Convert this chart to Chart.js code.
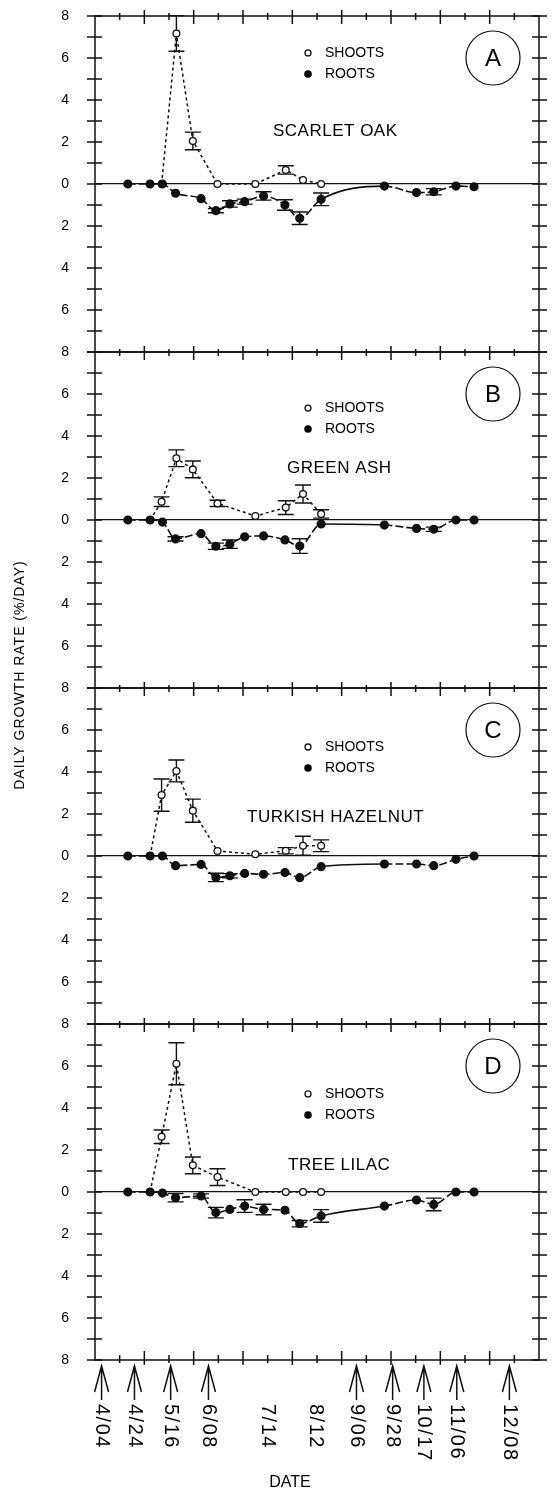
<!DOCTYPE html>
<html>
<head>
<meta charset="utf-8">
<script src="https://cdn.jsdelivr.net/npm/chart.js@4.4.1/dist/chart.umd.min.js"></script>
<style>
  html, body { margin: 0; padding: 0; background: #fff; }
  #wrap { width: 555px; height: 1492px; position: relative; }
</style>
</head>
<body>
<div id="wrap"><canvas id="growthChart"></canvas></div>
<script>
// Sampling dates (day of year)
const rootDays = [110, 123.5, 131, 139, 154.5, 163.5, 172, 181, 192.5, 205.5, 214.5, 227.5, 266, 285.5, 296, 309.5, 320.5];
const shootDays = [123.5, 130.5, 139.5, 149.5, 164.5, 187.5, 206, 216.5, 227.5];

// Scarlet oak
const oakShoots = [null, 0, 7.17, 2.05, 0, 0, 0.67, 0.19, 0];
const oakShootErr = [0, 0, 0.85, 0.42, 0, 0, 0.2, 0, 0];
const oakRoots = [0, 0, 0, -0.44, -0.7, -1.27, -0.95, -0.84, -0.57, -1.0, -1.63, -0.73, -0.1, -0.41, -0.37, -0.1, -0.13];
const oakRootErr = [0, 0, 0, 0, 0, 0.1, 0.15, 0.12, 0.2, 0.25, 0.3, 0.3, 0, 0, 0.15, 0, 0];

// Green ash
const ashShoots = [0, 0.87, 2.94, 2.41, 0.79, 0.19, 0.59, 1.24, 0.29];
const ashShootErr = [0, 0.23, 0.4, 0.4, 0.15, 0, 0.33, 0.43, 0.2];
const ashRoots = [0, 0, -0.1, -0.9, -0.65, -1.25, -1.15, -0.8, -0.76, -0.95, -1.24, -0.19, -0.24, -0.4, -0.44, 0, 0];
const ashRootErr = [0, 0, 0, 0.1, 0, 0.15, 0.2, 0, 0, 0, 0.35, 0, 0, 0, 0.1, 0, 0];

// Turkish hazelnut
const hazelShoots = [0, 2.9, 4.05, 2.16, 0.24, 0.08, 0.25, 0.49, 0.49];
const hazelShootErr = [0, 0.77, 0.52, 0.55, 0, 0, 0.15, 0.45, 0.28];
const hazelRoots = [0, 0, 0, -0.46, -0.4, -1.02, -0.94, -0.83, -0.87, -0.79, -1.03, -0.51, -0.38, -0.38, -0.46, -0.16, 0];
const hazelRootErr = [0, 0, 0, 0, 0, 0.2, 0.1, 0, 0, 0, 0, 0, 0, 0, 0, 0, 0];

// Tree lilac
const lilacShoots = [0, 2.63, 6.11, 1.27, 0.71, 0, 0, 0, 0];
const lilacShootErr = [0, 0.32, 1.0, 0.4, 0.4, 0, 0, 0, 0];
const lilacRoots = [0, 0, -0.05, -0.27, -0.19, -0.98, -0.83, -0.67, -0.83, -0.87, -1.51, -1.14, -0.67, -0.38, -0.59, 0, 0];
const lilacRootErr = [0, 0, 0, 0.2, 0.1, 0.25, 0, 0.3, 0.25, 0, 0.15, 0.3, 0, 0, 0.3, 0, 0];

const speciesNames = ["SCARLET OAK", "GREEN ASH", "TURKISH HAZELNUT", "TREE LILAC"];
const panelLetters = ["A", "B", "C", "D"];

// Marked dates under the axis
const markDays = [94, 114, 136, 159, 195, 224, 249, 271, 290, 310, 342];
const markLabels = ["4/04", "4/24", "5/16", "6/08", "7/14", "8/12", "9/06", "9/28", "10/17", "11/06", "12/08"];
const unarrowed = ["7/14", "8/12"];

const ink = "#111";
const fontFamily = "'Liberation Sans', Arial, Helvetica, sans-serif";
const panelIds = ["yA", "yB", "yC", "yD"];

// text placement per panel (title x in px, y in data units)
const titleX = [273, 287, 247, 288];
const titleY = [2.52, 2.48, 1.86, 1.29];
const legendY = [6.24, 5.33, 5.19, 4.67];

function toPoints(days, values) {
  return days.map((d, i) => ({ x: d, y: values[i] }));
}

function rootSet(id, values, errs) {
  return {
    label: "Roots",
    yAxisID: id,
    data: toPoints(rootDays, values),
    errors: errs,
    borderColor: ink,
    borderWidth: 1.6,
    pointRadius: 3.8,
    pointBackgroundColor: ink,
    pointBorderColor: ink,
    cubicInterpolationMode: "monotone",
    segment: {
      borderDash: (c) => (c.p1.parsed.x - c.p0.parsed.x > 30 ? [] : [8, 3]),
    },
  };
}

function shootSet(id, values, errs) {
  return {
    label: "Shoots",
    yAxisID: id,
    data: toPoints(shootDays, values),
    errors: errs,
    borderColor: ink,
    borderWidth: 1.5,
    borderDash: [3, 3],
    pointRadius: 3.4,
    pointBorderWidth: 1.3,
    pointBackgroundColor: "#fff",
    pointBorderColor: ink,
    tension: 0,
  };
}

function yScale(weight) {
  return {
    type: "linear",
    position: "left",
    stack: "panels",
    stackWeight: 1,
    weight: weight,
    min: -8,
    max: 8,
    border: { display: false },
    grid: {
      drawTicks: false,
      lineWidth: 1.2,
      color: (c) => (c.tick && c.tick.value === 0 ? ink : "rgba(0,0,0,0)"),
    },
    ticks: {
      stepSize: 1,
      autoSkip: false,
      padding: 26,
      color: "#000",
      font: { size: 14, family: fontFamily },
      callback: function (v) {
        if (v === -8 && this.id !== "yD") return "";
        return v % 2 === 0 ? String(Math.abs(v)) : "";
      },
    },
    afterFit: (s) => {
      s.width = 95;
      s.paddingTop = 0;
      s.paddingBottom = 0;
    },
  };
}

// Frame, tick marks and error bars
const framePlugin = {
  id: "frame",
  beforeDatasetsDraw(chart) {
    const ctx = chart.ctx;
    const area = chart.chartArea;
    const xs = chart.scales.x;
    ctx.save();
    ctx.strokeStyle = ink;
    ctx.lineWidth = 1.5;
    panelIds.forEach((id, i) => {
      const s = chart.scales[id];
      ctx.strokeRect(area.left, s.top, area.right - area.left, s.bottom - s.top);
      ctx.beginPath();
      s.ticks.forEach((t) => {
        const y = s.getPixelForValue(t.value);
        ctx.moveTo(area.left - 8, y);
        ctx.lineTo(area.left + 7, y);
        ctx.moveTo(area.right - 7, y);
        ctx.lineTo(area.right + 8, y);
      });
      xs.ticks.forEach((t) => {
        if (t.value <= xs.min || t.value >= xs.max) return;
        const x = xs.getPixelForValue(t.value);
        const long = (t.value - xs.min) % 30 === 0;
        ctx.moveTo(x, s.top - (long ? 6 : 3));
        ctx.lineTo(x, s.top + (long ? 8 : 4));
        if (i === panelIds.length - 1) {
          ctx.moveTo(x, s.bottom - (long ? 9 : 5));
          ctx.lineTo(x, s.bottom + (long ? 5 : 3));
        }
      });
      ctx.stroke();
    });

    // error bars
    ctx.lineWidth = 1.4;
    chart.data.datasets.forEach((ds, di) => {
      const meta = chart.getDatasetMeta(di);
      const s = chart.scales[ds.yAxisID];
      ctx.beginPath();
      ds.data.forEach((p, i) => {
        const e = ds.errors[i];
        if (!e || p.y === null) return;
        const x = meta.data[i].x;
        const y1 = s.getPixelForValue(p.y + e);
        const y2 = s.getPixelForValue(p.y - e);
        ctx.moveTo(x, y1);
        ctx.lineTo(x, y2);
        ctx.moveTo(x - 8, y1);
        ctx.lineTo(x + 8, y1);
        ctx.moveTo(x - 8, y2);
        ctx.lineTo(x + 8, y2);
      });
      ctx.stroke();
    });
    ctx.restore();
  },

  afterDraw(chart) {
    const ctx = chart.ctx;
    const area = chart.chartArea;
    const xs = chart.scales.x;
    ctx.save();
    ctx.fillStyle = "#000";
    ctx.strokeStyle = ink;

    panelIds.forEach((id, i) => {
      const s = chart.scales[id];
      // legend
      const ly1 = s.getPixelForValue(legendY[i]);
      const ly2 = s.getPixelForValue(legendY[i] - 1);
      ctx.lineWidth = 1.3;
      ctx.beginPath();
      ctx.arc(308, ly1, 3, 0, Math.PI * 2);
      ctx.stroke();
      ctx.beginPath();
      ctx.arc(308, ly2, 3.8, 0, Math.PI * 2);
      ctx.fill();
      ctx.font = "14px " + fontFamily;
      ctx.textAlign = "left";
      ctx.textBaseline = "middle";
      ctx.fillText("SHOOTS", 325, ly1);
      ctx.fillText("ROOTS", 325, ly2);
      // species name
      ctx.font = "17px " + fontFamily;
      ctx.letterSpacing = "0.5px";
      ctx.fillText(speciesNames[i], titleX[i], s.getPixelForValue(titleY[i]));
      ctx.letterSpacing = "0px";
      // circled letter
      const cy = s.top + 42;
      ctx.lineWidth = 1.2;
      ctx.beginPath();
      ctx.arc(493, cy, 27, 0, Math.PI * 2);
      ctx.stroke();
      ctx.font = "24px " + fontFamily;
      ctx.textAlign = "center";
      ctx.fillText(panelLetters[i], 493, cy + 1);
    });

    // date arrows and labels
    const base = area.bottom;
    ctx.lineWidth = 1.5;
    ctx.font = "20px " + fontFamily;
    ctx.letterSpacing = "1.5px";
    markDays.forEach((d, i) => {
      const x = xs.getPixelForValue(d);
      if (!unarrowed.includes(markLabels[i])) {
        ctx.beginPath();
        ctx.moveTo(x, base + 6);
        ctx.lineTo(x, base + 40);
        ctx.moveTo(x - 7, base + 32);
        ctx.lineTo(x, base + 6);
        ctx.lineTo(x + 7, base + 32);
        ctx.stroke();
      }
      ctx.save();
      ctx.translate(x, base + 44);
      ctx.rotate(Math.PI / 2);
      ctx.textAlign = "left";
      ctx.textBaseline = "middle";
      ctx.fillText(markLabels[i], 0, 0);
      ctx.restore();
    });
    ctx.letterSpacing = "0px";

    // axis titles
    ctx.font = "16px " + fontFamily;
    ctx.textAlign = "center";
    ctx.textBaseline = "middle";
    ctx.fillText("DATE", 290, 1483);
    ctx.save();
    ctx.translate(20, 675);
    ctx.rotate(-Math.PI / 2);
    ctx.font = "14px " + fontFamily;
    ctx.letterSpacing = "1px";
    ctx.fillText("DAILY GROWTH RATE (%/DAY)", 0, 0);
    ctx.restore();
    ctx.restore();
  },
};

new Chart(document.getElementById("growthChart"), {
  type: "line",
  data: {
    datasets: [
      rootSet("yA", oakRoots, oakRootErr),
      rootSet("yB", ashRoots, ashRootErr),
      rootSet("yC", hazelRoots, hazelRootErr),
      rootSet("yD", lilacRoots, lilacRootErr),
      shootSet("yA", oakShoots, oakShootErr),
      shootSet("yB", ashShoots, ashShootErr),
      shootSet("yC", hazelShoots, hazelShootErr),
      shootSet("yD", lilacShoots, lilacShootErr),
    ],
  },
  options: {
    responsive: true,
    maintainAspectRatio: false,
    animation: false,
    layout: { padding: { left: 0, right: 16, top: 16, bottom: 132 } },
    plugins: {
      legend: { display: false },
      tooltip: { enabled: false },
    },
    scales: {
      x: {
        type: "linear",
        min: 90,
        max: 360,
        border: { display: false },
        grid: { display: false },
        ticks: { stepSize: 15, display: false },
        afterFit: (s) => {
          s.height = 0;
        },
      },
      yD: yScale(1),
      yC: yScale(2),
      yB: yScale(3),
      yA: yScale(4),
    },
  },
  plugins: [framePlugin],
});
</script>
</body>
</html>
